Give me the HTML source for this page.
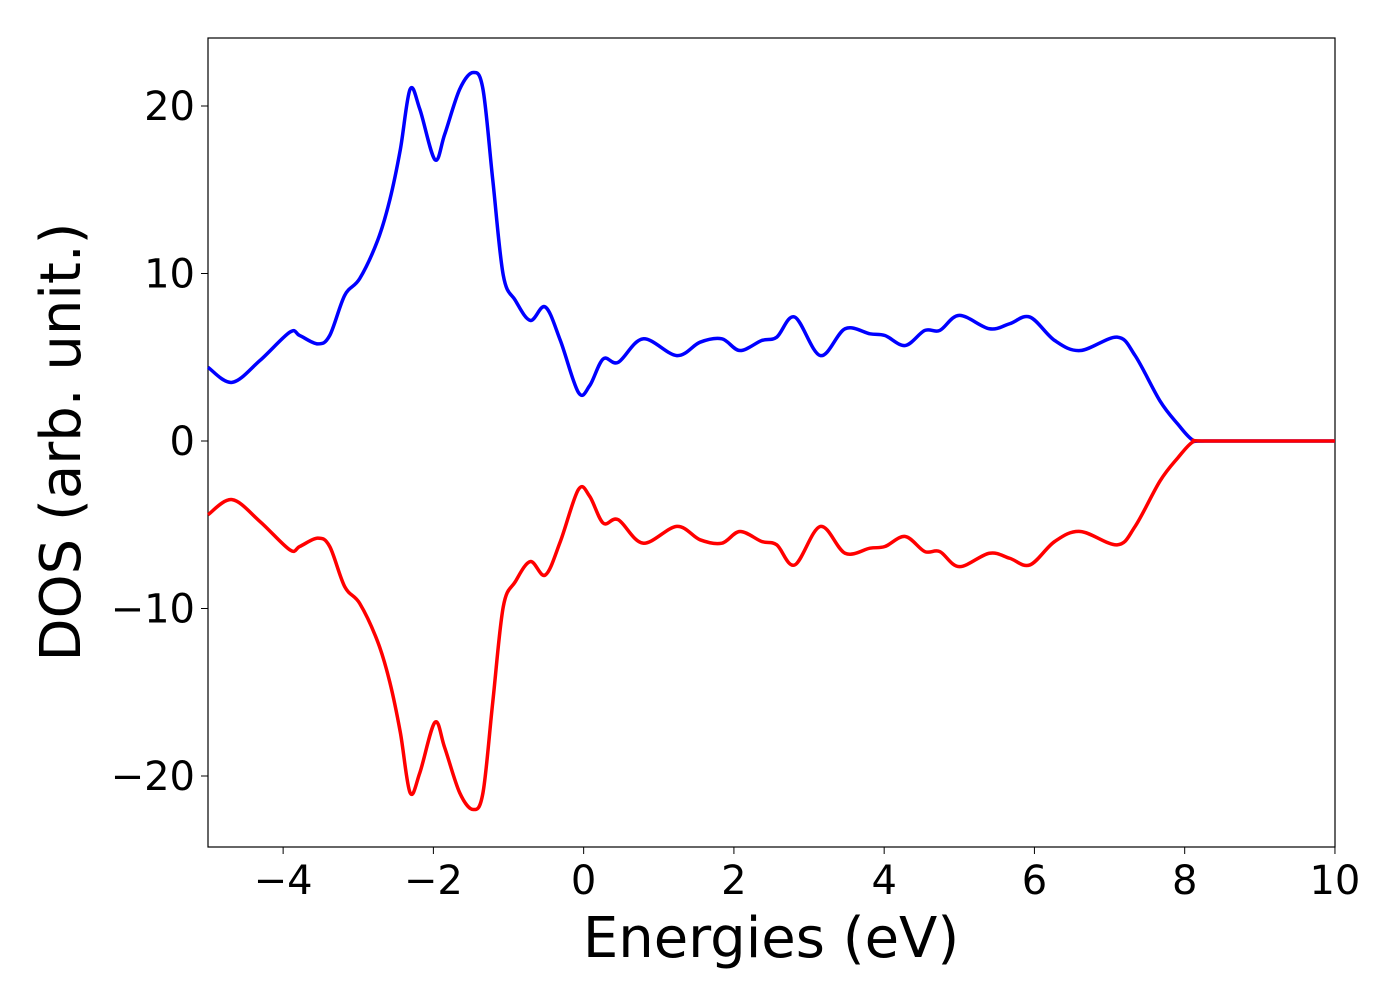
<!DOCTYPE html>
<html><head><meta charset="utf-8"><style>
body{margin:0;background:#fff;width:1400px;height:1000px;overflow:hidden}
svg{font-family:"DejaVu Sans","Liberation Sans",sans-serif}
</style></head><body>
<svg id="chart" width="1400" height="1000">
<rect x="208" y="38" width="1127" height="809" fill="none" stroke="#000" stroke-width="1.2"/>
<g id="ticks"></g>
<g id="series"></g>
<text x="771" y="957" text-anchor="middle" font-size="56">Energies (eV)</text>
<text transform="translate(80,442) rotate(-90)" text-anchor="middle" font-size="56">DOS (arb. unit.)</text>
</svg>
<script>
const energies=[-5,-4.68,-4.31,-3.91,-3.78,-3.54,-3.38,-3.18,-2.98,-2.74,-2.58,-2.44,-2.31,-2.18,-1.98,-1.85,-1.65,-1.47,-1.34,-1.21,-1.07,-0.91,-0.71,-0.51,-0.31,-0.07,0.08,0.26,0.46,0.79,1.24,1.55,1.84,2.08,2.37,2.57,2.81,3.15,3.48,3.81,4.01,4.28,4.54,4.74,5.0,5.4,5.67,5.94,6.27,6.61,7.10,7.34,7.67,7.91,8.11,8.3,10];
const upValues=[4.4,3.5,4.8,6.5,6.3,5.8,6.3,8.7,9.7,12,14.4,17.4,21,19.8,16.8,18.3,21,22,21,15.6,9.9,8.4,7.2,8.0,6,2.9,3.3,4.9,4.7,6.1,5.1,5.9,6.1,5.4,6.0,6.2,7.4,5.1,6.7,6.4,6.3,5.7,6.6,6.6,7.5,6.7,7.0,7.4,6.0,5.4,6.2,5.1,2.4,1.0,0.05,0,0];
const downValues=[-4.4,-3.5,-4.8,-6.5,-6.3,-5.8,-6.3,-8.7,-9.7,-12,-14.4,-17.4,-21,-19.8,-16.8,-18.3,-21,-22,-21,-15.6,-9.9,-8.4,-7.2,-8.0,-6,-2.9,-3.3,-4.9,-4.7,-6.1,-5.1,-5.9,-6.1,-5.4,-6.0,-6.2,-7.4,-5.1,-6.7,-6.4,-6.3,-5.7,-6.6,-6.6,-7.5,-6.7,-7.0,-7.4,-6.0,-5.4,-6.2,-5.1,-2.4,-1.0,-0.05,0,0];
const xTicks=[-4,-2,0,2,4,6,8,10];
const yTicks=[-20,-10,0,10,20];
const X=v=>208+(v+5)*75.13;
const Y=v=>441-v*16.75;
const NS="http://www.w3.org/2000/svg";
const fmt=v=>v<0?"\u2212"+(-v):""+v;
const tg=document.getElementById('ticks');
xTicks.forEach(t=>{
 const l=document.createElementNS(NS,'line');
 l.setAttribute('x1',X(t));l.setAttribute('x2',X(t));l.setAttribute('y1',847);l.setAttribute('y2',854);l.setAttribute('stroke','#000');
 
 
 tg.appendChild(l);
 const tx=document.createElementNS(NS,'text');
 tx.setAttribute('x',X(t));tx.setAttribute('y',894);tx.setAttribute('text-anchor','middle');tx.setAttribute('font-size','40');
 tx.textContent=fmt(t);
 
 
 tg.appendChild(tx);
});
yTicks.forEach(t=>{
 const l=document.createElementNS(NS,'line');
 l.setAttribute('x1',201);l.setAttribute('x2',208);l.setAttribute('y1',Y(t));l.setAttribute('y2',Y(t));l.setAttribute('stroke','#000');
 
 
 tg.appendChild(l);
 const tx=document.createElementNS(NS,'text');
 tx.setAttribute('x',195);tx.setAttribute('y',Y(t)+14);tx.setAttribute('text-anchor','end');tx.setAttribute('font-size','40');
 tx.textContent=fmt(t);
 
 
 tg.appendChild(tx);
});
function pathFor(xs,ys){
 const p=xs.map((x,i)=>[X(x),Y(ys[i])]);
 let d='M'+p[0][0]+','+p[0][1];
 for(let i=0;i<p.length-1;i++){
  const p0=p[i-1]||p[i],p1=p[i],p2=p[i+1],p3=p[i+2]||p2;
  const c1=[p1[0]+(p2[0]-p0[0])/6,p1[1]+(p2[1]-p0[1])/6];
  const c2=[p2[0]-(p3[0]-p1[0])/6,p2[1]-(p3[1]-p1[1])/6];
  d+=` C${c1[0]},${c1[1]} ${c2[0]},${c2[1]} ${p2[0]},${p2[1]}`;
 }
 return d;
}
const sg=document.getElementById('series');
[[upValues,'#0000ff','spin-up-line'],[downValues,'#ff0000','spin-down-line']].forEach(([v,c,n])=>{
 const pa=document.createElementNS(NS,'path');
 pa.setAttribute('d',pathFor(energies,v));pa.setAttribute('fill','none');pa.setAttribute('stroke',c);pa.setAttribute('stroke-width','3.5');
 
 
 sg.appendChild(pa);
});
</script>
</body></html>
